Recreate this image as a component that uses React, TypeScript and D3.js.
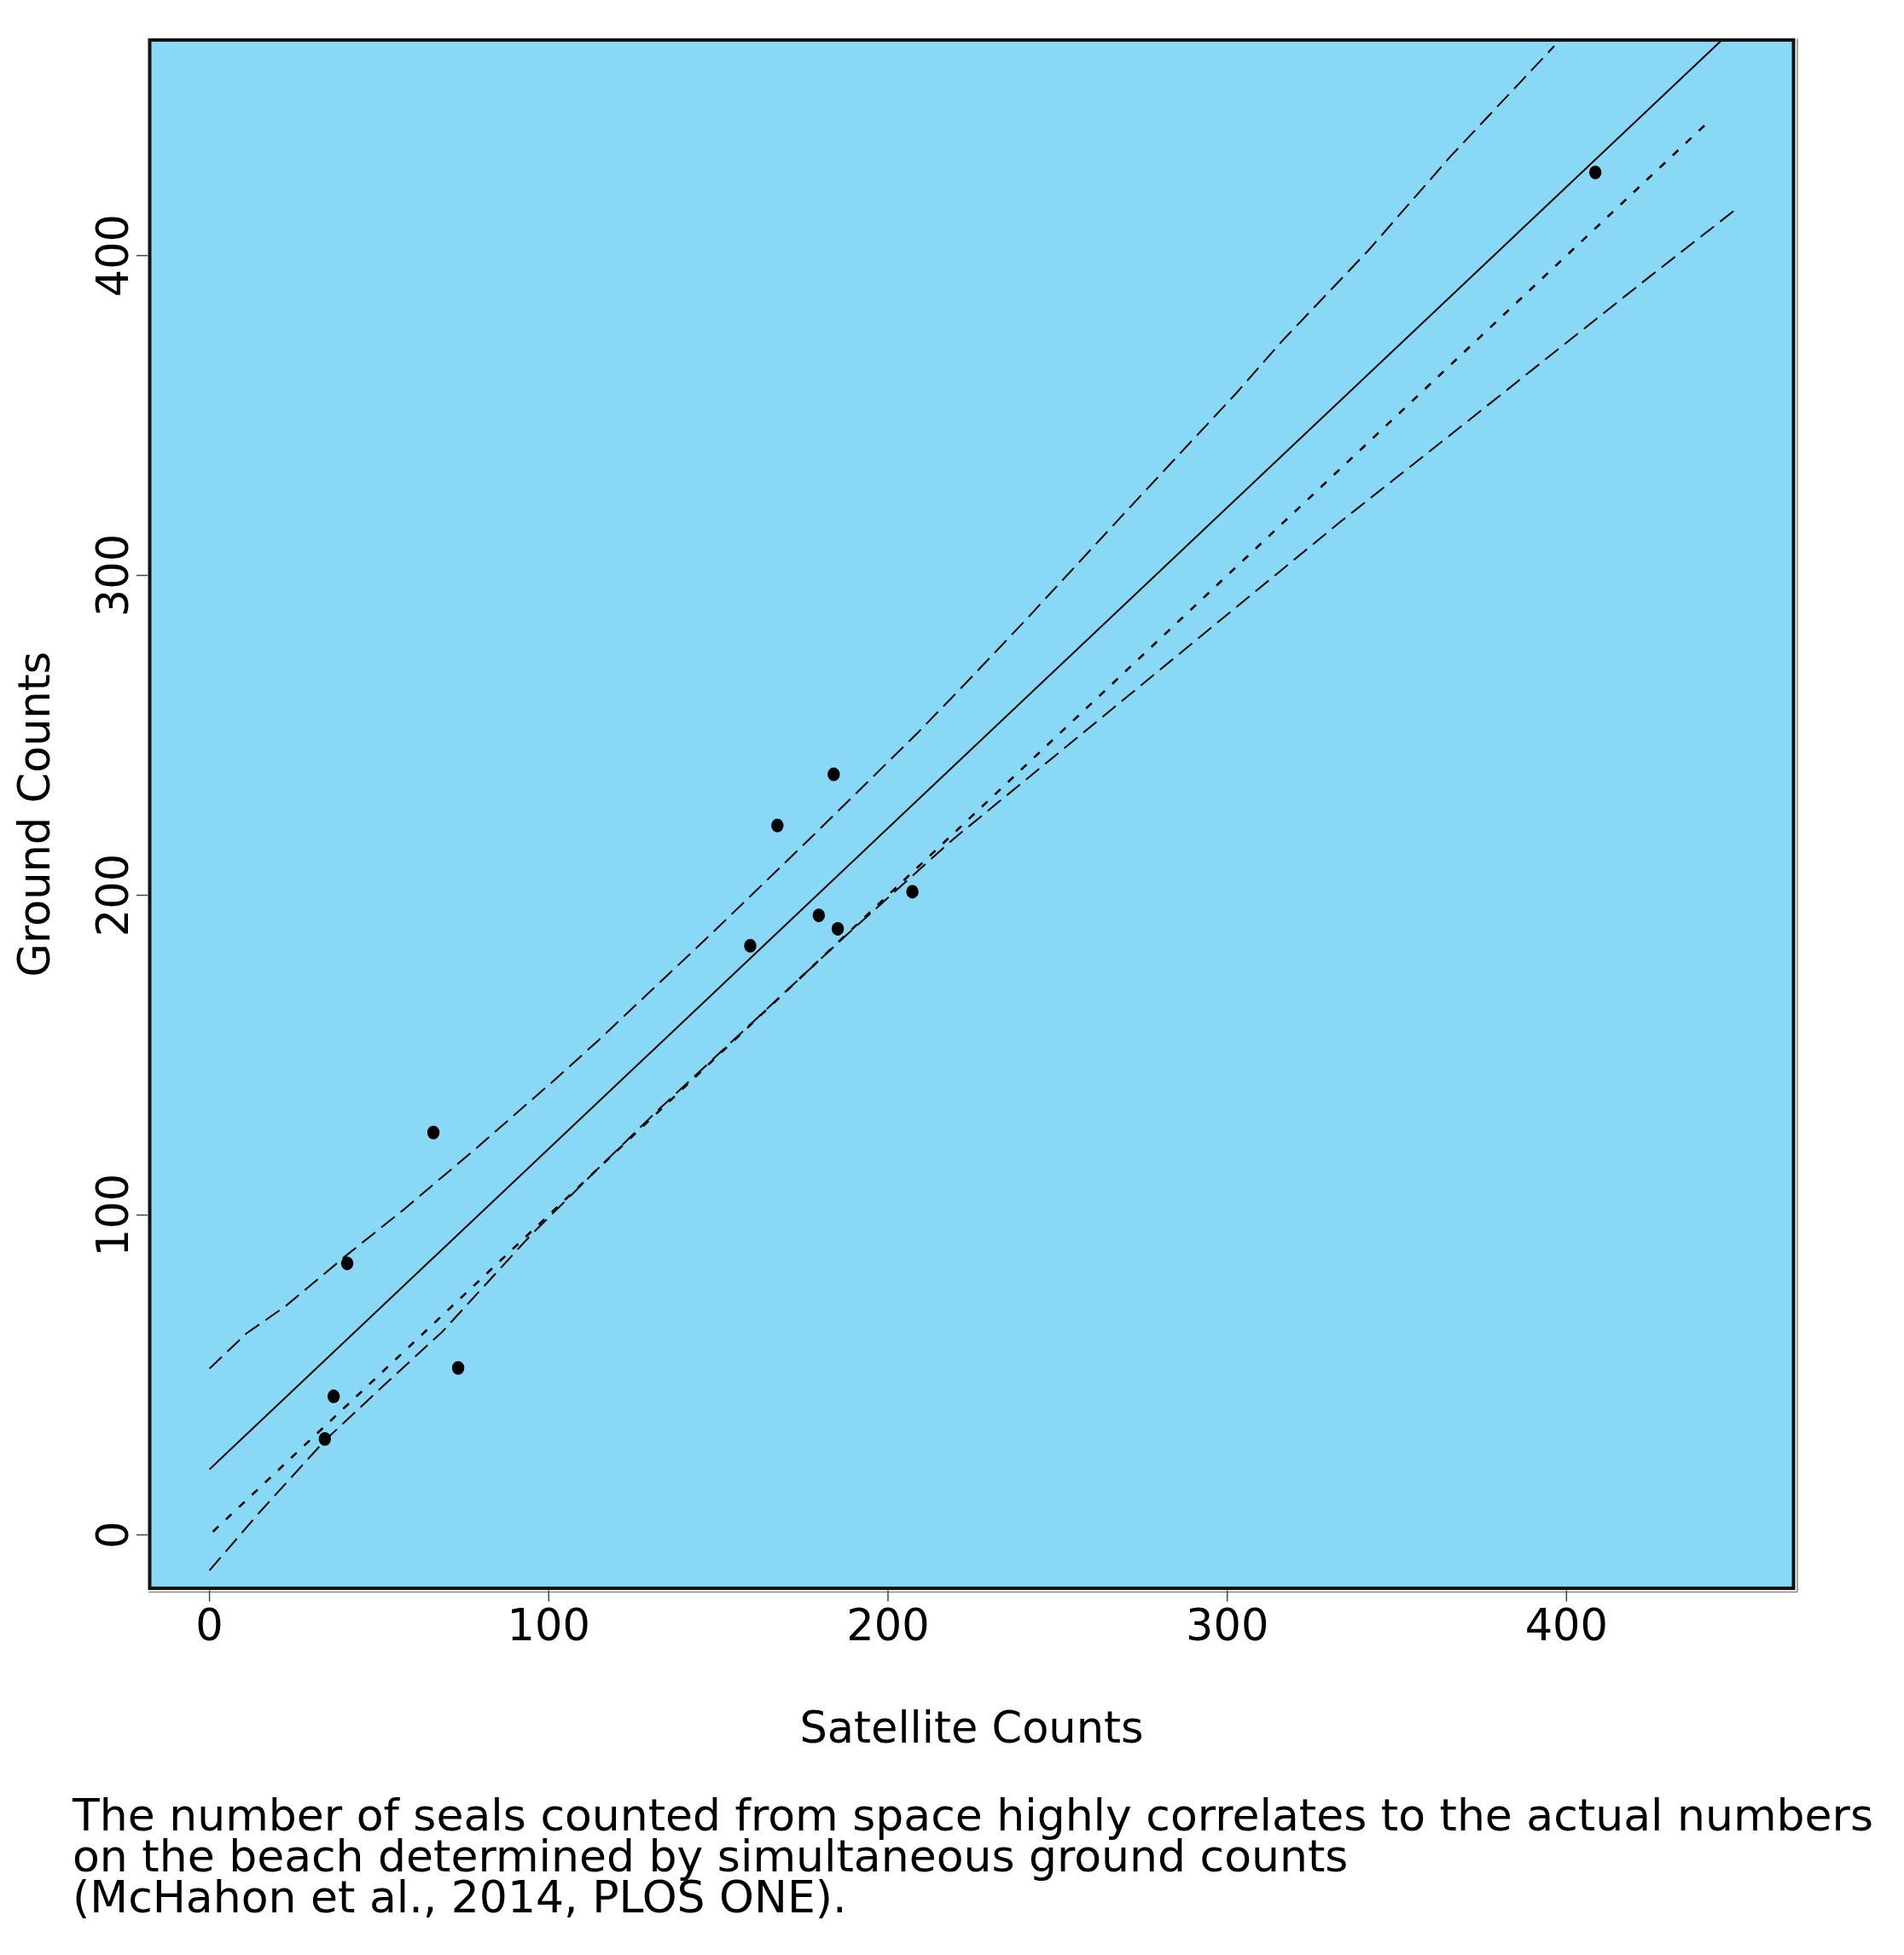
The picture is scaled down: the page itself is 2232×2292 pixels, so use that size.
import React from 'react';
import * as d3 from 'd3';

// ---- data ----
const satelliteCounts = [408.5, 184.0, 167.4, 66.0, 159.4, 179.6, 185.2, 207.2, 40.6, 73.3, 36.6, 34.0];
const groundCounts = [426.0, 237.8, 221.8, 125.8, 184.2, 193.7, 189.5, 201.1, 84.9, 52.2, 43.3, 30.0];

// fitted regression line (solid)
const fitX = [0, 446];
const fitY = [20.5, 467.6];

// 1:1 line (dotted)
const identityX = [1, 441];
const identityY = [1, 441];

// upper confidence band (dashed)
const upperX = [0, 10.9, 22.4, 40.7, 57.0, 78.2, 102.3, 114.3, 147.0, 176.9, 208.6, 223.1, 240.0, 272.8, 302.6, 316.1, 341.5, 365.8, 396.4];
const upperY = [52.0, 63.0, 71.5, 87.7, 101.5, 120.5, 142.8, 154.3, 187.0, 217.6, 250.6, 266.5, 285.4, 323.0, 356.9, 373.2, 401.5, 431.0, 465.5];

// lower confidence band (dashed)
const lowerX = [0, 14.7, 34.0, 49.4, 68.6, 94.6, 114.3, 131.2, 187.4, 219.2, 242.0, 271.8, 295.9, 333.4, 364.2, 391.0, 424.5, 449.6];
const lowerY = [-11.1, 7.0, 29.5, 44.8, 63.5, 93.6, 114.3, 131.8, 187.2, 217.5, 237.3, 263.2, 284.2, 316.8, 342.6, 365.2, 393.4, 414.2];

const xTicks = [0, 100, 200, 300, 400];
const yTicks = [0, 100, 200, 300, 400];
const xTitle = 'Satellite Counts';
const yTitle = 'Ground Counts';
const captionLines = [
  'The number of seals counted from space highly correlates to the actual numbers',
  'on the beach determined by simultaneous ground counts',
  '(McHahon et al., 2014, PLOS ONE).',
];

// ---- layout ----
const W = 2232;
const H = 2292;
const box = { left: 174, right: 2104, top: 45.4, bottom: 1863.6 };
const FONT = '"DejaVu Sans", "Noto Sans", sans-serif';
const FS = 51;
const CAPTION_FS = 52;

export default function App() {
  const x = d3.scaleLinear().domain([-18, 467.3]).range([box.left, box.right]);
  const y = d3.scaleLinear().domain([-17.1, 467.8]).range([box.bottom, box.top]);

  const line = d3
    .line<[number, number]>()
    .x((d) => x(d[0]))
    .y((d) => y(d[1]));

  const zip = (a: number[], b: number[]) => a.map((v, i) => [v, b[i]] as [number, number]);

  const fitPath = line(zip(fitX, fitY)) || '';
  const idPath = line(zip(identityX, identityY)) || '';
  const upPath = line(zip(upperX, upperY)) || '';
  const loPath = line(zip(lowerX, lowerY)) || '';

  return (
    <svg
      width={W}
      height={H}
      viewBox={`0 0 ${W} ${H}`}
      style={{ position: 'absolute', left: 0, top: 0, display: 'block', background: '#fff' }}
    >
      <defs>
        <clipPath id="plotClip">
          <rect x={box.left + 3} y={box.top + 3} width={box.right - box.left - 6} height={box.bottom - box.top - 6} />
        </clipPath>
      </defs>
      <rect x={0} y={0} width={W} height={H} fill="#ffffff" />
      {/* plot background */}
      <rect
        x={box.left}
        y={box.top}
        width={box.right - box.left}
        height={box.bottom - box.top}
        fill="#89D9F6"
      />
      <g clipPath="url(#plotClip)" fill="none" stroke="#000" strokeWidth={2}>
        <path d={fitPath} />
        <path d={idPath} strokeDasharray="9 12" strokeWidth={2.6} />
        <path d={upPath} strokeDasharray="20 9" />
        <path d={loPath} strokeDasharray="20 9" />
      </g>
      <g fill="#000">
        {satelliteCounts.map((s, i) => (
          <ellipse key={i} cx={x(s)} cy={y(groundCounts[i])} rx={7.2} ry={8} />
        ))}
      </g>
      {/* frame */}
      <line x1={box.left} x2={box.right + 3} y1={box.bottom + 3} y2={box.bottom + 3} stroke="#888" strokeWidth={1.5} />
      <line x1={box.right + 3} x2={box.right + 3} y1={box.top} y2={box.bottom + 3} stroke="#888" strokeWidth={1.5} />
      <rect
        x={box.left + 1.5}
        y={box.top + 1.5}
        width={box.right - box.left - 3}
        height={box.bottom - box.top - 3}
        fill="none"
        stroke="#111"
        strokeWidth={4}
      />
      {/* x axis ticks */}
      <g>
        {xTicks.map((t) => (
          <g key={t}>
            <line x1={x(t)} x2={x(t)} y1={box.bottom + 1} y2={box.bottom + 14} stroke="#444" strokeWidth={1.5} />
            <text x={x(t)} y={1923} textAnchor="middle" fontFamily={FONT} fontSize={FS} fill="#000">
              {t}
            </text>
          </g>
        ))}
      </g>
      {/* y axis ticks */}
      <g>
        {yTicks.map((t) => (
          <g key={t}>
            <line x1={box.left - 14} x2={box.left - 1} y1={y(t)} y2={y(t)} stroke="#444" strokeWidth={1.5} />
            <text
              transform={`translate(150, ${y(t)}) rotate(-90)`}
              textAnchor="middle"
              fontFamily={FONT}
              fontSize={FS}
              fill="#000"
            >
              {t}
            </text>
          </g>
        ))}
      </g>
      <text x={(box.left + box.right) / 2} y={2043} textAnchor="middle" fontFamily={FONT} fontSize={FS} fill="#000">
        {xTitle}
      </text>
      <text
        transform={`translate(58, ${(box.top + box.bottom) / 2}) rotate(-90)`}
        textAnchor="middle"
        fontFamily={FONT}
        fontSize={FS}
        fill="#000"
      >
        {yTitle}
      </text>
      {captionLines.map((l, i) => (
        <text key={i} x={85} y={2146 + i * 48} fontFamily={FONT} fontSize={CAPTION_FS} fill="#000">
          {l}
        </text>
      ))}
    </svg>
  );
}
